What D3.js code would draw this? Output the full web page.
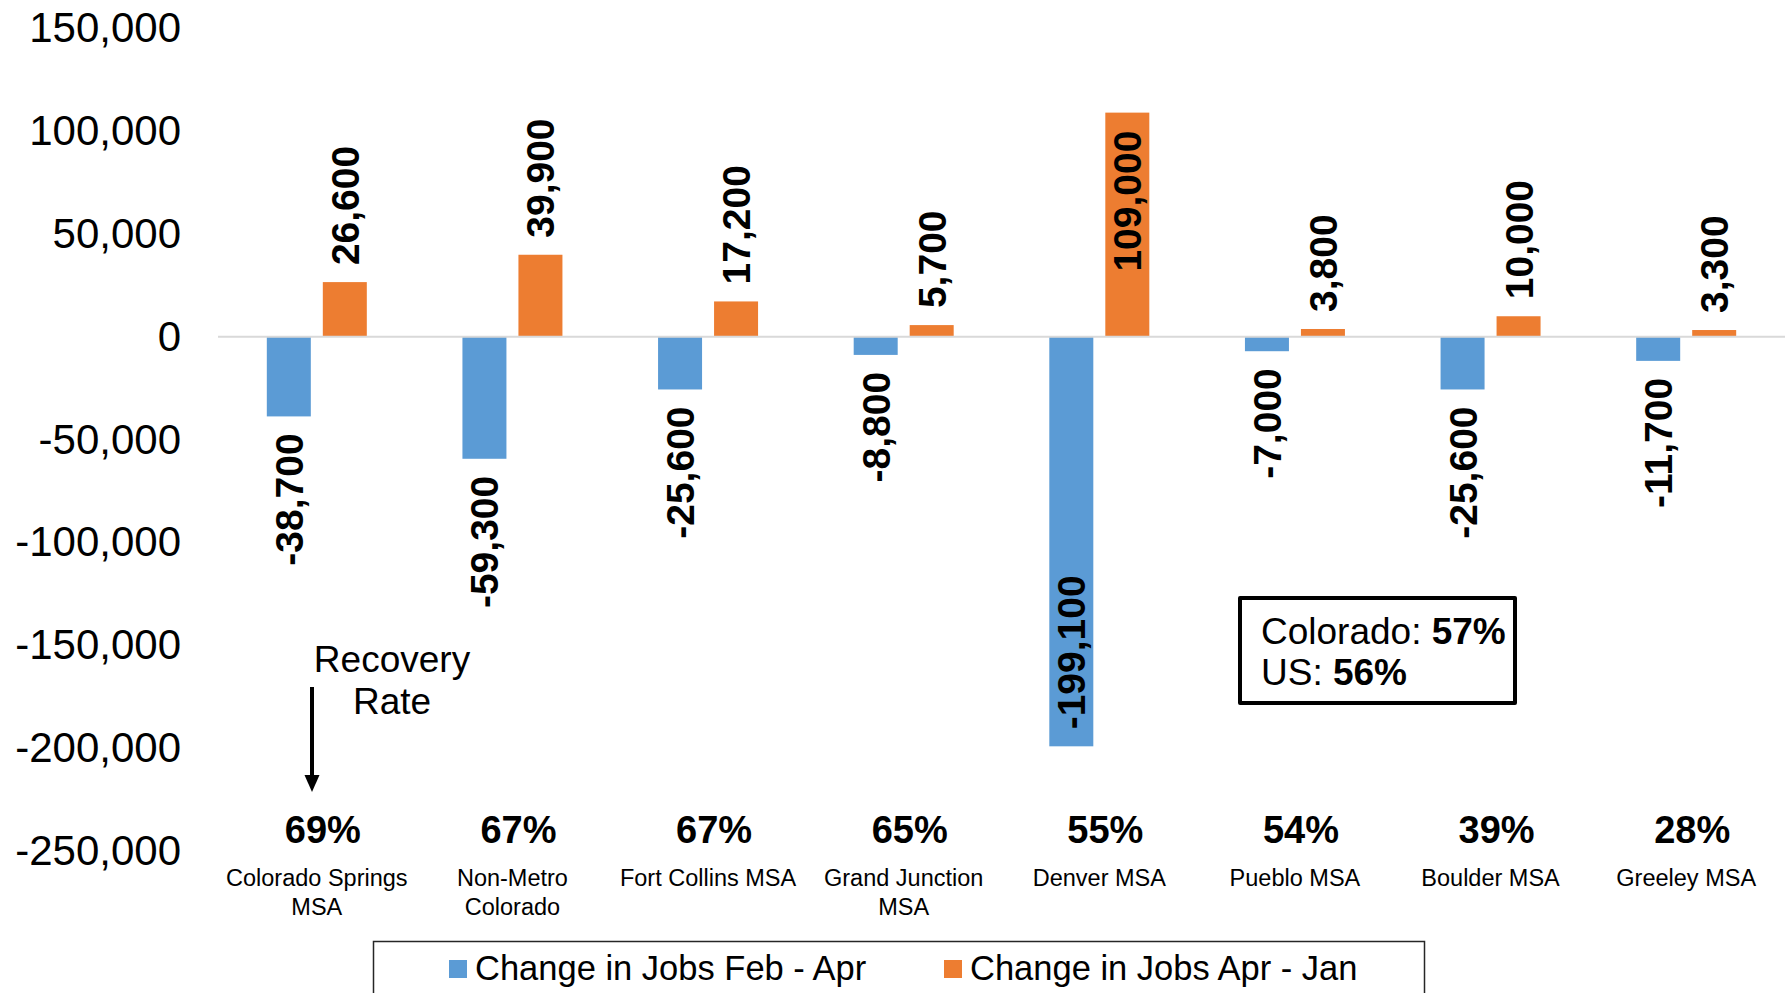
<!DOCTYPE html>
<html>
<head>
<meta charset="utf-8">
<script src="https://cdn.jsdelivr.net/npm/d3@7"></script>
<style>
  body { margin: 0; background: #fff; }
  svg { display: block; font-family: "Liberation Sans", Arial, sans-serif; }
</style>
</head>
<body>
<div id="chart"></div>
<script>
// Data
const categories = [
    "Colorado Springs MSA", "Non-Metro Colorado", "Fort Collins MSA", "Grand Junction MSA",
    "Denver MSA", "Pueblo MSA", "Boulder MSA", "Greeley MSA"
];
const seriesNames = ["Change in Jobs Feb - Apr", "Change in Jobs Apr - Jan"];
const febApr = [-38700, -59300, -25600, -8800, -199100, -7000, -25600, -11700];
const aprJan = [26600, 39900, 17200, 5700, 109000, 3800, 10000, 3300];
const recoveryRates = ["69%", "67%", "67%", "65%", "55%", "54%", "39%", "28%"];
const yTicks = [150000, 100000, 50000, 0, -50000, -100000, -150000, -200000, -250000];
const stateRates = [["Colorado: ", "57%"], ["US: ", "56%"]];

const colors = ["#5B9BD5", "#ED7D31"];
const width = 1785, height = 993;

const svg = d3.select("#chart").append("svg")
    .attr("width", width)
    .attr("height", height);

svg.append("rect").attr("width", width).attr("height", height).attr("fill", "#fff");

// plain hyphen for negatives, like Excel
const comma = d3.format(",");
const fmt = v => comma(v).replace("\u2212", "-");

// scales
const y = d3.scaleLinear().domain([-250000, 150000]).range([851, 28.3]);
const x0 = d3.scaleBand().domain(categories).range([219, 1784]);
const mid = x0.bandwidth() / 2;
const x1 = d3.scaleBand().domain([0, 1]).range([mid - 50, mid + 50]).paddingInner(0.2143);

// y axis labels (no line, no ticks)
const yAxis = svg.append("g")
    .attr("transform", "translate(181,0)")
    .call(d3.axisLeft(y).tickValues(yTicks).tickSize(0).tickPadding(0).tickFormat(fmt));
yAxis.select(".domain").remove();
yAxis.selectAll("text")
    .attr("font-family", "'Liberation Sans', Arial, sans-serif")
    .attr("font-size", 42)
    .attr("fill", "#000");

// rows: one entry per bar
const rows = [];
categories.forEach((c, i) => {
    rows.push({ cat: c, s: 0, v: febApr[i] });
    rows.push({ cat: c, s: 1, v: aprJan[i] });
});

svg.append("g").selectAll("rect")
    .data(rows)
    .enter()
    .append("rect")
    .attr("x", d => x0(d.cat) + x1(d.s))
    .attr("y", d => y(Math.max(0, d.v)))
    .attr("width", x1.bandwidth())
    .attr("height", d => Math.abs(y(d.v) - y(0)))
    .attr("fill", d => colors[d.s]);

// zero line
svg.append("line")
    .attr("x1", 218).attr("x2", width)
    .attr("y1", y(0)).attr("y2", y(0))
    .attr("stroke", "#d9d9d9")
    .attr("stroke-width", 2);

// data labels, rotated; moved inside the bar when they would leave the plot
const gap = 17;
const labels = svg.append("g").selectAll("text")
    .data(rows)
    .enter()
    .append("text")
    .attr("font-size", 39)
    .attr("font-weight", "bold")
    .attr("fill", "#000")
    .attr("dy", "0.36em")
    .text(d => fmt(d.v));

labels.each(function (d) {
    const len = this.getComputedTextLength();
    const cx = x0(d.cat) + x1(d.s) + x1.bandwidth() / 2;
    const end = y(d.v);
    let ly, anchor;
    if (d.v >= 0) {
        if (end - gap - len < y.range()[1]) { ly = end + gap + 1; anchor = "end"; }
        else { ly = end - gap; anchor = "start"; }
    } else {
        if (end + gap + len > y.range()[0]) { ly = end - gap; anchor = "start"; }
        else { ly = end + gap; anchor = "end"; }
    }
    d3.select(this)
        .attr("text-anchor", anchor)
        .attr("transform", `translate(${cx},${ly}) rotate(-90)`);
});

// recovery rates
svg.append("g").selectAll("text")
    .data(categories)
    .enter()
    .append("text")
    .attr("x", d => x0(d) + mid + 6)
    .attr("y", 843)
    .attr("text-anchor", "middle")
    .attr("font-size", 38)
    .attr("font-weight", "bold")
    .text((d, i) => recoveryRates[i]);

// category names, wrapped to the band width
const catText = svg.append("g").selectAll("text")
    .data(categories)
    .enter()
    .append("text")
    .attr("x", d => x0(d) + mid)
    .attr("y", 886)
    .attr("text-anchor", "middle")
    .attr("font-size", 23.5)
    .attr("fill", "#000");

catText.each(function (d) {
    const el = d3.select(this);
    const words = d.split(" ");
    let line = [];
    let tspan = el.append("tspan").attr("x", x0(d) + mid).attr("dy", 0);
    words.forEach(w => {
        line.push(w);
        tspan.text(line.join(" "));
        if (tspan.node().getComputedTextLength() > 190 && line.length > 1) {
            line.pop();
            tspan.text(line.join(" "));
            line = [w];
            tspan = el.append("tspan").attr("x", x0(d) + mid).attr("dy", 29).text(w);
        }
    });
});

// "Recovery Rate" note with arrow
svg.append("text")
    .attr("x", 392).attr("y", 672)
    .attr("text-anchor", "middle")
    .attr("font-size", 37)
    .text("Recovery");
svg.append("text")
    .attr("x", 392).attr("y", 714)
    .attr("text-anchor", "middle")
    .attr("font-size", 37)
    .text("Rate");
svg.append("line")
    .attr("x1", 312).attr("x2", 312)
    .attr("y1", 687).attr("y2", 778)
    .attr("stroke", "#000")
    .attr("stroke-width", 4);
svg.append("path")
    .attr("d", "M304.5,775 L319.5,775 L312,792 Z")
    .attr("fill", "#000");

// state / national box
svg.append("rect")
    .attr("x", 1240).attr("y", 598)
    .attr("width", 275).attr("height", 105)
    .attr("fill", "#fff")
    .attr("stroke", "#000")
    .attr("stroke-width", 4)
    .attr("stroke-linejoin", "round");
stateRates.forEach((r, i) => {
    const t = svg.append("text")
        .attr("x", 1261)
        .attr("y", 644 + i * 41)
        .attr("font-size", 37);
    t.append("tspan").text(r[0]);
    t.append("tspan").attr("font-weight", "bold").text(r[1]);
});

// legend
svg.append("rect")
    .attr("x", 373.5).attr("y", 941.5)
    .attr("width", 1051).attr("height", 90)
    .attr("fill", "none")
    .attr("stroke", "#262626")
    .attr("stroke-width", 1.5);

const legendX = [449, 944];
const legend = svg.append("g").selectAll("g")
    .data(seriesNames)
    .enter()
    .append("g")
    .attr("transform", (d, i) => `translate(${legendX[i]},0)`);
legend.append("rect")
    .attr("x", 0).attr("y", 960)
    .attr("width", 18).attr("height", 18)
    .attr("fill", (d, i) => colors[i]);
legend.append("text")
    .attr("x", 26).attr("y", 980)
    .attr("font-size", 34.5)
    .text(d => d);
</script>
</body>
</html>
